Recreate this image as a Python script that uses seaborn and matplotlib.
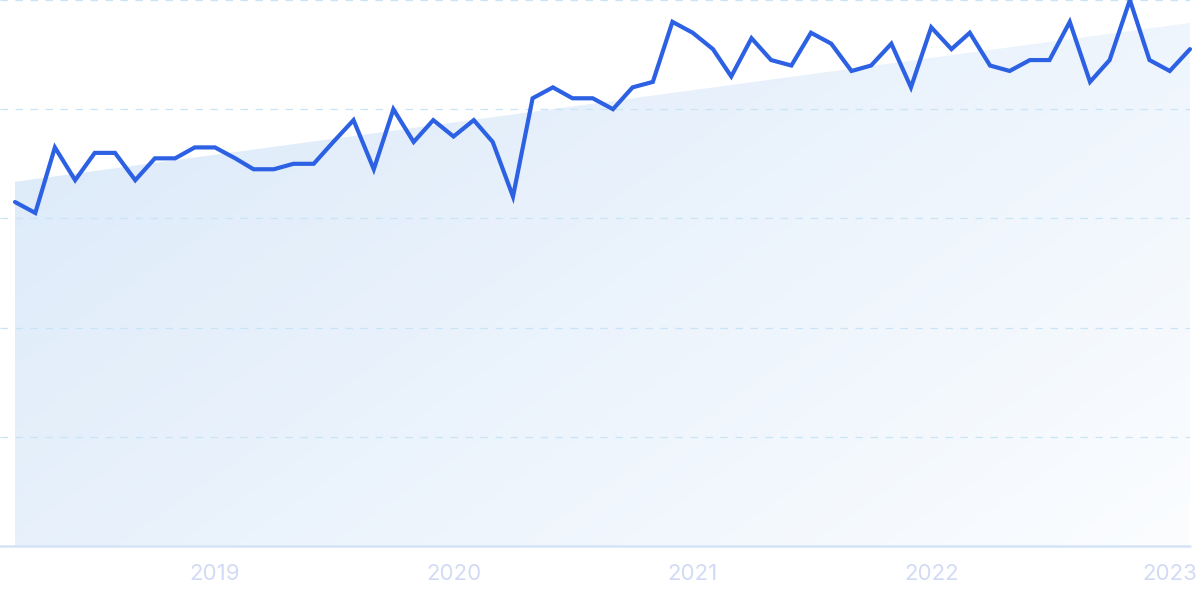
import numpy as np
import pandas as pd
import matplotlib
matplotlib.use("Agg")
import matplotlib.pyplot as plt
import matplotlib.dates as mdates
from matplotlib.patches import Polygon
import seaborn as sns

# monthly interest, Mar 2018 - Feb 2023
months = pd.date_range("2018-03-01", "2023-02-01", freq="MS")
interest = [63, 61, 73, 67, 72, 72, 67, 71, 71, 73,
            73, 71, 69, 69, 70, 70, 74, 78, 69, 80,
            74, 78, 75, 78, 74, 64, 82, 84, 82, 82,
            80, 84, 85, 96, 94, 91, 86, 93, 89, 88,
            94, 92, 87, 88, 92, 84, 95, 91, 94, 88,
            87, 89, 89, 96, 85, 89, 100, 89, 87, 91]
trend_ends = [66.7, 95.8]
year_labels = ["2019", "2020", "2021", "2022", "2023"]
grid_levels = [20, 40, 60, 80, 100]

sns.set_theme(style="white")
plt.rcParams["font.family"] = ["Inter", "DejaVu Sans"]

fig = plt.figure(figsize=(12, 5.99), dpi=100)
ax = fig.add_axes([0, 53 / 599, 1190 / 1200, 546 / 599])

xs = mdates.date2num(months)
x_left = mdates.date2num(months[0] - pd.Timedelta(days=23))
x0, x1 = xs[0], xs[-1]

# gradient trend area
h, w = 200, 400
u = np.linspace(0, 1, w)[None, :]
v = np.linspace(0, 1, h)[:, None]
t = np.clip(0.6 * u + 0.4 * v, 0, 1)[..., None]
c0 = np.array([0.855, 0.912, 0.976])
c1 = np.array([0.985, 0.992, 1.0])
grad = c0 * (1 - t) + c1 * t
poly = Polygon([(x0, 0), (x0, trend_ends[0]), (x1, trend_ends[1]), (x1, 0)],
               closed=True, transform=ax.transData, facecolor="none", edgecolor="none")
ax.add_patch(poly)
img = ax.imshow(grad, extent=[x0, x1, 0, 100], aspect="auto", origin="upper", zorder=0)
img.set_clip_path(poly)

for g in grid_levels:
    ax.axhline(g, color="#c9e3f7", lw=0.9, linestyle=(0, (6, 6)), zorder=1)
ax.axhline(0, color="#d4e4f6", lw=1.8, zorder=1, clip_on=False)

sns.lineplot(x=xs, y=interest, color="#2d61e3", lw=3.0, ax=ax, zorder=3)
for ln in ax.lines[-1:]:
    ln.set_clip_on(False)
    ln.set_solid_joinstyle("miter")

ax.set_xlim(x_left, x1)
ax.set_ylim(0, 100)
ticks = [mdates.date2num(pd.Timestamp(f"{y}-01-01")) for y in year_labels]
ax.set_xticks(ticks)
ax.set_xticklabels(year_labels, color="#d2dbf5", fontsize=16)
ax.tick_params(axis="x", length=0, pad=13)
ax.set_yticks([])
ax.set_xlabel("")
ax.set_ylabel("")
for s in ax.spines.values():
    s.set_visible(False)

fig.savefig("out.png", dpi=100)
